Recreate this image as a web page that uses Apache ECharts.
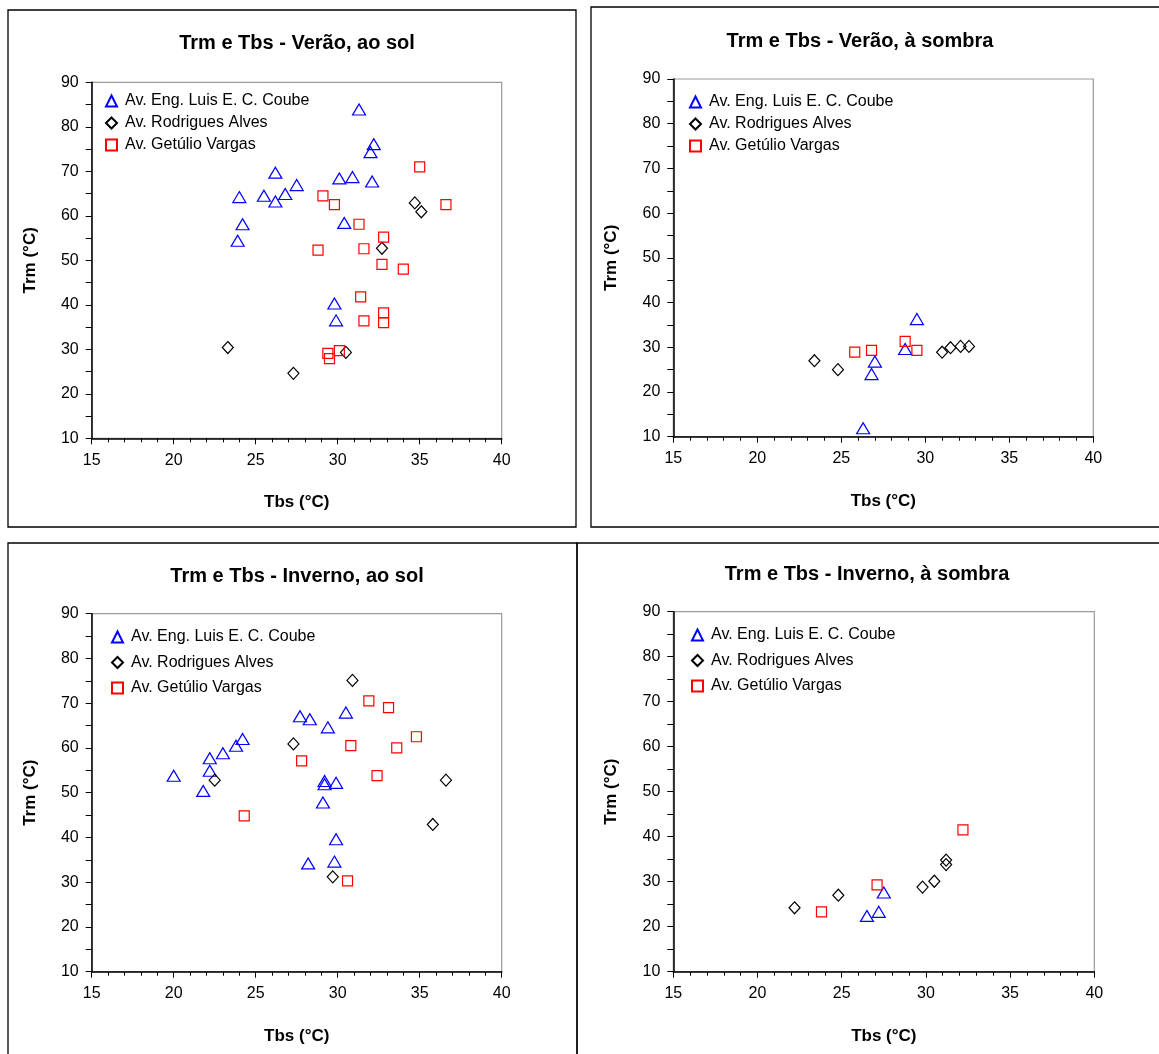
<!DOCTYPE html>
<html>
<head>
<meta charset="utf-8">
<script src="https://cdn.jsdelivr.net/npm/echarts@6/dist/echarts.min.js"></script>
<style>
  html, body { margin: 0; padding: 0; background: #fff; }
  #container { width: 1159px; height: 1054px; }
</style>
</head>
<body>
<div id="container"></div>
<script>
// series names
var nomes = ['Av. Eng. Luis E. C. Coube', 'Av. Rodrigues Alves', 'Av. Getúlio Vargas']
var titulos = ['Trm e Tbs - Verão, ao sol', 'Trm e Tbs - Verão, à sombra',
               'Trm e Tbs - Inverno, ao sol', 'Trm e Tbs - Inverno, à sombra']

// Verão, ao sol  [Tbs, Trm]
var veraoSolCoube = [[31.3,83.9],[32.2,76.1],[32.0,74.3],[30.1,68.4],[30.9,68.7],[32.1,67.7],
    [27.5,66.9],[26.8,64.9],[30.4,58.4],[26.2,69.7],[24.0,64.2],[25.5,64.5],[26.2,63.2],
    [24.2,58.1],[23.9,54.4],[29.8,40.3],[29.9,36.5]]
var veraoSolRodrigues = [[34.7,62.9],[35.1,60.9],[32.7,52.7],[23.3,30.4],[27.3,24.6],[30.5,29.3]]
var veraoSolGetulio = [[35.0,71.0],[36.6,62.5],[29.1,64.5],[29.8,62.5],[31.3,58.1],[32.8,55.2],
    [28.8,52.3],[31.6,52.6],[32.7,49.1],[34.0,48.0],[31.4,41.8],[32.8,38.2],[31.6,36.4],
    [32.8,36.0],[29.4,29.1],[29.5,27.9],[30.1,29.7]]

// Verão, à sombra
var veraoSombraCoube = [[29.5,36.3],[28.8,29.6],[27.0,26.8],[26.8,24.0],[26.3,11.9]]
var veraoSombraRodrigues = [[23.4,27.0],[24.8,25.0],[31.0,28.9],[31.5,29.9],[32.1,30.2],[32.6,30.2]]
var veraoSombraGetulio = [[25.8,28.9],[26.8,29.3],[28.8,31.3],[29.5,29.3]]

// Inverno, ao sol
var invernoSolCoube = [[20.0,53.8],[21.8,50.4],[22.2,54.9],[22.2,57.7],[23.0,58.8],[23.8,60.5],
    [24.2,62.0],[27.7,67.1],[28.3,66.4],[30.5,67.9],[29.4,64.6],[29.2,52.6],[29.2,51.9],
    [29.9,52.2],[29.1,47.8],[29.9,39.6],[28.2,34.2],[29.8,34.6]]
var invernoSolRodrigues = [[22.5,52.8],[27.3,60.9],[30.9,75.1],[36.6,52.8],[29.7,31.2],[35.8,42.9]]
var invernoSolGetulio = [[31.9,70.5],[33.1,69.0],[34.8,62.5],[30.8,60.5],[33.6,60.0],[27.8,57.1],
    [32.4,53.8],[24.3,44.8],[30.6,30.3]]

// Inverno, à sombra
var invernoSombraCoube = [[26.5,22.4],[27.2,23.3],[27.5,27.6]]
var invernoSombraRodrigues = [[22.2,24.2],[24.8,27.0],[29.8,28.8],[30.5,30.1],[31.2,34.8],[31.2,33.8]]
var invernoSombraGetulio = [[23.8,23.3],[27.1,29.3],[32.2,41.5]]

var paineis = [
    [veraoSolCoube, veraoSolRodrigues, veraoSolGetulio],
    [veraoSombraCoube, veraoSombraRodrigues, veraoSombraGetulio],
    [invernoSolCoube, invernoSolRodrigues, invernoSolGetulio],
    [invernoSombraCoube, invernoSombraRodrigues, invernoSombraGetulio]
]

var fonte = 'Liberation Sans, Arial, sans-serif'
var grids = [
    {left: 91.7, top: 82.3, width: 410, height: 356},
    {left: 673.3, top: 79, width: 420, height: 357.7},
    {left: 91.7, top: 613.7, width: 410, height: 358},
    {left: 673.3, top: 611.7, width: 421, height: 360}
]
var caixas = [[8, 10, 568, 517], [591, 7, 570, 520], [8, 543, 569, 515], [577, 543, 585, 515]]
var titPos = [[292, 28], [855, 26], [292, 561], [862, 559]]
var legPos = [[100, 88, 6], [684, 89, 6], [106, 624, 9.5], [686, 622, 9.5]]
var simbolos = [
    {symbol: 'triangle', size: [13, 11], cor: '#0000ff'},
    {symbol: 'diamond', size: [11, 12], cor: '#000000'},
    {symbol: 'rect', size: [10, 10], cor: '#ff0000'}
]

var myChart = echarts.init(document.getElementById('container'))

var option = {
    animation: false,
    backgroundColor: '#fff',
    title: [],
    legend: [],
    grid: [],
    xAxis: [],
    yAxis: [],
    series: [],
    graphic: []
}

for (let p = 0; p < 4; p++) {
    option.graphic.push({
        type: 'rect',
        shape: {x: caixas[p][0], y: caixas[p][1], width: caixas[p][2], height: caixas[p][3]},
        style: {fill: 'none', stroke: '#000', lineWidth: 1.3},
        silent: true
    })
    option.title.push({
        text: titulos[p],
        left: titPos[p][0],
        top: titPos[p][1],
        textAlign: 'center',
        textStyle: {fontFamily: fonte, fontSize: 20, fontWeight: 'bold', color: '#000'}
    })
    option.legend.push({
        data: nomes,
        orient: 'vertical',
        left: legPos[p][0],
        top: legPos[p][1],
        itemGap: legPos[p][2],
        itemWidth: 11,
        itemHeight: 11,
        selectedMode: false,
        textStyle: {fontFamily: fonte, fontSize: 16, color: '#000', padding: [0, 0, 0, 3]}
    })
    option.grid.push(Object.assign({
        show: true, borderColor: '#9a9a9a', borderWidth: 1.2, backgroundColor: '#fff'
    }, grids[p]))
    option.xAxis.push({
        type: 'value', gridIndex: p, min: 15, max: 40, interval: 5,
        name: 'Tbs (°C)', nameLocation: 'middle', nameGap: 56,
        nameTextStyle: {fontFamily: fonte, fontSize: 17, fontWeight: 'bold', color: '#000'},
        axisLine: {lineStyle: {color: '#000', width: 1.5}},
        axisTick: {length: 6, lineStyle: {color: '#000'}},
        minorTick: {show: true, splitNumber: 5, length: 4, lineStyle: {color: '#000'}},
        axisLabel: {margin: 14, fontFamily: fonte, fontSize: 16, color: '#000'},
        splitLine: {show: false}
    })
    option.yAxis.push({
        type: 'value', gridIndex: p, min: 10, max: 90, interval: 10,
        name: 'Trm (°C)', nameLocation: 'middle', nameGap: 53,
        nameTextStyle: {fontFamily: fonte, fontSize: 17, fontWeight: 'bold', color: '#000'},
        axisLine: {lineStyle: {color: '#000', width: 1.5}},
        axisTick: {length: 6, lineStyle: {color: '#000'}},
        minorTick: {show: true, splitNumber: 2, length: 6, lineStyle: {color: '#000'}},
        axisLabel: {margin: 13, fontFamily: fonte, fontSize: 16, color: '#000'},
        splitLine: {show: false}
    })
    for (let s = 0; s < 3; s++) {
        option.series.push({
            type: 'scatter',
            name: nomes[s],
            xAxisIndex: p,
            yAxisIndex: p,
            data: paineis[p][s],
            symbol: simbolos[s].symbol,
            symbolSize: simbolos[s].size,
            itemStyle: {color: 'rgba(255,255,255,0)', borderColor: simbolos[s].cor, borderWidth: 1.2, opacity: 1},
            emphasis: {disabled: true}
        })
    }
}

myChart.setOption(option)
</script>
</body>
</html>
